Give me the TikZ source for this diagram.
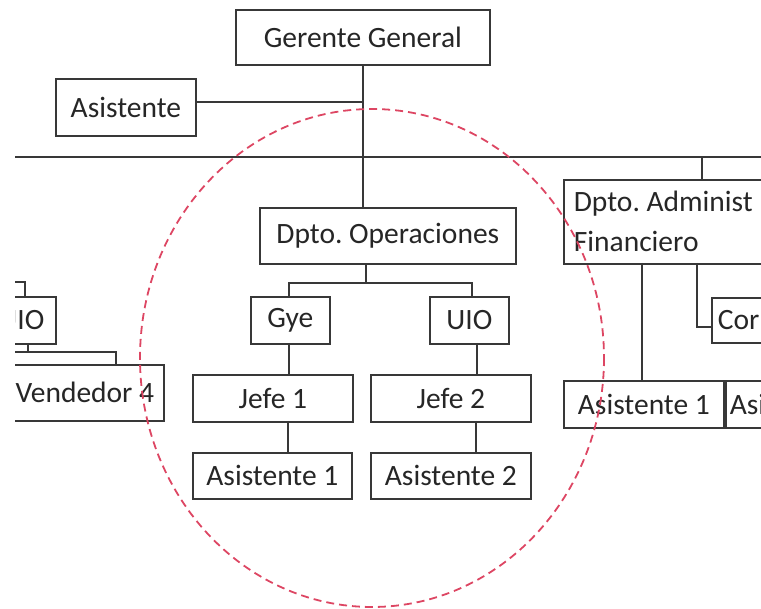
\documentclass[tikz,border=0pt]{standalone}
\usepackage{fontspec}
\setmainfont{Carlito}
\definecolor{linec}{HTML}{383838}
\definecolor{textc}{HTML}{262626}
\definecolor{ovalc}{HTML}{DD4663}
\begin{document}
\begin{tikzpicture}[x=1pt,y=-1pt,
  box/.style={draw=linec, line width=1.7pt, rectangle, inner sep=0pt, anchor=north west,
    text=textc, font=\fontsize{29.5}{40}\selectfont\frenchspacing},
  lbox/.style={box, align=left, inner xsep=#1, inner ysep=0pt},
  conn/.style={draw=linec, line width=1.7pt},
  oval/.style={draw=ovalc, line width=1.8pt, dash pattern=on 8pt off 5pt}]
\useasboundingbox (0,0) rectangle (761,609);
\begin{scope}
\clip (15,0) rectangle (761,609);
% boxes
\node[box, minimum width=254pt, minimum height=55pt] (gg) at (235,9) {Gerente General};
\node[box, minimum width=140pt, minimum height=57pt] (asis) at (55,78) {Asistente};
\node[box, minimum width=256pt, minimum height=56pt] (ops) at (259,207) {Dpto. Operaciones};
\node[lbox=10pt, text width=240pt, minimum height=84pt] (adm) at (563,179) {\spaceskip=0pt Dpto. Administ\\Financiero};
\node[box, minimum width=79pt, minimum height=47pt] (gye) at (250,296) {Gye};
\node[box, minimum width=79pt, minimum height=47pt] (uio) at (429,296) {UIO};
\node[box, minimum width=160pt, minimum height=47pt] (jefe1) at (192,374) {Jefe 1};
\node[box, minimum width=160pt, minimum height=47pt] (jefe2) at (370,374) {Jefe 2};
\node[box, minimum width=159pt, minimum height=46pt] (asi1) at (192,452) {Asistente 1};
\node[box, minimum width=160pt, minimum height=46pt] (asi2) at (370,452) {Asistente 2};
\node[lbox=6pt, text width=80pt, minimum height=45pt] (cor) at (711,297) {Cor};
\node[box, minimum width=160pt, minimum height=47pt] (asr1) at (563,380) {Asistente 1};
\node[lbox=4pt, text width=80pt, minimum height=47pt] (asr2) at (725,380) {Asi};
\node[box, minimum width=69pt, minimum height=47pt] (uiol) at (-14,296) {UIO};
\node[box, minimum width=158pt, minimum height=56pt] (vend) at (5,364) {Vendedor 4};
% junction coordinates
\coordinate (asisj) at (362,102);
\coordinate (busL) at (15,157);
\coordinate (busR) at (761,157);
\coordinate (busA) at (702,157);
\coordinate (opsj) at (366,283);
\coordinate (gyej) at (289,283);
\coordinate (uioj) at (472,283);
\coordinate (gyed) at (289,343);
\coordinate (uiod) at (477,343);
\coordinate (j1d) at (288,421);
\coordinate (j2d) at (476,421);
\coordinate (admA) at (642,263);
\coordinate (admC) at (697,263);
\coordinate (corj) at (697,327);
\coordinate (lt1) at (15,282);
\coordinate (lt2) at (25,282);
\coordinate (lb1) at (28,343);
\coordinate (lb2) at (28,352);
\coordinate (lb3) at (15,352);
\coordinate (lb4) at (116,352);
% connectors
\draw[conn] (gg.south) -- (gg.south |- ops.north);
\draw[conn] (asis.east |- asisj) -- (asisj);
\draw[conn] (busL) -- (busR);
\draw[conn] (busA) -- (busA |- adm.north);
\draw[conn] (opsj |- ops.south) -- (opsj);
\draw[conn] (gyej |- gye.north) -- (gyej) -- (uioj) -- (uioj |- uio.north);
\draw[conn] (gyed) -- (gyed |- jefe1.north);
\draw[conn] (uiod) -- (uiod |- jefe2.north);
\draw[conn] (j1d) -- (j1d |- asi1.north);
\draw[conn] (j2d) -- (j2d |- asi2.north);
\draw[conn] (admA) -- (admA |- asr1.north);
\draw[conn] (admC) -- (corj) -- (corj -| cor.west);
\draw[conn] (lt1) -- (lt2) -- (lt2 |- uiol.north);
\draw[conn] (lb1) -- (lb2);
\draw[conn] (lb3) -- (lb4) -- (lb4 |- vend.north);
\end{scope}
% highlight oval
\draw[oval] (372,358) ellipse [x radius=232, y radius=249];
\end{tikzpicture}
\end{document}
